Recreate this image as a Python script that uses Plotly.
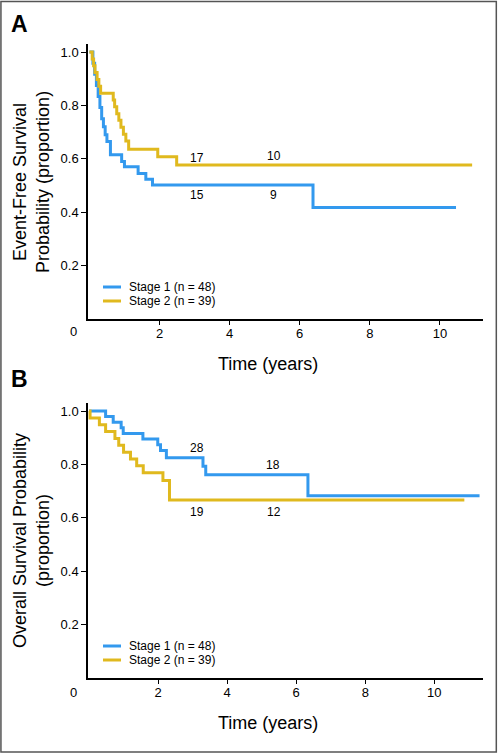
import plotly.graph_objects as go
from plotly.subplots import make_subplots

# ---- Data ----
efs_stage1_t = [0, 0.10, 0.15, 0.20, 0.25, 0.30, 0.35, 0.40, 0.45, 0.50, 0.60, 0.92, 1.00, 1.39, 1.61, 1.80, 6.38, 10.46]
efs_stage1_p = [1.0, 0.958, 0.917, 0.875, 0.833, 0.792, 0.750, 0.720, 0.690, 0.665, 0.615, 0.590, 0.570, 0.545, 0.523, 0.502, 0.418, 0.418]

efs_stage2_t = [0, 0.08, 0.12, 0.16, 0.22, 0.27, 0.32, 0.68, 0.72, 0.78, 0.84, 0.90, 0.97, 1.04, 1.12, 1.95, 2.49, 10.92]
efs_stage2_p = [1.0, 0.974, 0.949, 0.923, 0.897, 0.872, 0.846, 0.820, 0.795, 0.769, 0.744, 0.718, 0.692, 0.667, 0.636, 0.608, 0.577, 0.577]

os_stage1_t = [0, 0.48, 0.70, 0.93, 0.99, 1.56, 1.99, 2.07, 2.24, 3.30, 3.38, 6.34, 11.31]
os_stage1_p = [1.0, 0.979, 0.958, 0.937, 0.916, 0.895, 0.874, 0.852, 0.825, 0.793, 0.761, 0.683, 0.683]

os_stage2_t = [0, 0.03, 0.30, 0.48, 0.75, 0.86, 1.00, 1.20, 1.38, 1.57, 2.14, 2.33, 10.87]
os_stage2_p = [1.0, 0.974, 0.949, 0.923, 0.897, 0.872, 0.846, 0.820, 0.795, 0.769, 0.740, 0.667, 0.667]

series_names = ["Stage 1 (n = 48)", "Stage 2 (n = 39)"]

# numbers at risk annotations
efs_risk_t = [3.08, 5.26, 3.08, 5.26]
efs_risk_p = [0.604, 0.610, 0.463, 0.463]
efs_risk_txt = ["17", "10", "15", "9"]

os_risk_t = [3.14, 5.34, 3.14, 5.36]
os_risk_p = [0.862, 0.798, 0.620, 0.623]
os_risk_txt = ["28", "18", "19", "12"]

x_ticks = [2, 4, 6, 8, 10]
y_ticks = [0.2, 0.4, 0.6, 0.8, 1.0]
y_tick_text = ["0.2", "0.4", "0.6", "0.8", "1.0"]

BLUE = "#3399EE"
GOLD = "#E0B91E"
COLORS = [BLUE, GOLD]
FONT = "Liberation Sans, Arial, sans-serif"

W, H = 500, 754
L, R, T, B = 88, 17.3, 44, 76
PW = W - L - R
PH = H - T - B


def px_x(px):
    return (px - L) / PW


def px_y(py):
    return (H - B - py) / PH


fig = make_subplots(rows=2, cols=1)

panels = [
    (1, [(efs_stage1_t, efs_stage1_p), (efs_stage2_t, efs_stage2_p)]),
    (2, [(os_stage1_t, os_stage1_p), (os_stage2_t, os_stage2_p)]),
]
for row, series in panels:
    for i, (t, p) in enumerate(series):
        fig.add_trace(go.Scatter(x=t, y=p, mode="lines",
                                 line=dict(color=COLORS[i], width=3, shape="hv"),
                                 name=series_names[i], showlegend=False), row=row, col=1)

dom_a = [px_y(319), 1.0]
dom_b = [0.0, px_y(403)]

axis_common = dict(showline=True, linecolor="black", linewidth=1.5, showgrid=False, zeroline=False,
                   ticks="outside", tickcolor="black", tickwidth=1,
                   tickfont=dict(family=FONT, size=13, color="black"))

fig.update_layout(
    xaxis=dict(domain=[0, 1], range=[-0.04, 11.23], tickvals=x_ticks, ticklen=4, anchor="y",
               ticklabelstandoff=-2, **axis_common),
    yaxis=dict(domain=dom_a, range=[0, 1.03], tickvals=y_ticks, ticktext=y_tick_text, ticklen=5, anchor="x", **axis_common),
    xaxis2=dict(domain=[0, 1], range=[-0.03, 11.41], tickvals=x_ticks, ticklen=4, anchor="y2",
                ticklabelstandoff=-2, **axis_common),
    yaxis2=dict(domain=dom_b, range=[0, 1.03], tickvals=y_ticks, ticktext=y_tick_text, ticklen=5, anchor="x2", **axis_common),
)

annos = []
shapes = []
for t, p, s in zip(efs_risk_t, efs_risk_p, efs_risk_txt):
    annos.append(dict(x=t, y=p, xref="x", yref="y", text=s, showarrow=False,
                      font=dict(family=FONT, size=12, color="black")))
for t, p, s in zip(os_risk_t, os_risk_p, os_risk_txt):
    annos.append(dict(x=t, y=p, xref="x2", yref="y2", text=s, showarrow=False,
                      font=dict(family=FONT, size=12, color="black")))


def paper_text(px, py, text, size, angle=0):
    return dict(x=px_x(px), y=px_y(py), xref="paper", yref="paper", text=text,
                xanchor="center", yanchor="middle", textangle=angle,
                showarrow=False, font=dict(family=FONT, size=size, color="black"))


title_size = 18
annos.append(paper_text(268, 364, "Time (years)", title_size))
annos.append(paper_text(268, 723, "Time (years)", title_size))
annos.append(paper_text(31, 182, "Event-Free Survival<br>Probability (proportion)", title_size, -90))
annos.append(paper_text(31, 540, "Overall Survival Probability<br>(proportion)", title_size, -90))
annos.append(paper_text(74, 332, "0", 13))
annos.append(paper_text(74, 692, "0", 13))
annos.append(paper_text(20, 24, "<b>A</b>", 23))
annos.append(paper_text(20, 379, "<b>B</b>", 23))

# legends (compact, drawn as keys + labels)
for base_y in (287, 646):
    for i, name in enumerate(series_names):
        yy = base_y + 14 * i
        shapes.append(dict(type="line", xref="paper", yref="paper",
                           x0=px_x(103), x1=px_x(121), y0=px_y(yy), y1=px_y(yy),
                           line=dict(color=COLORS[i], width=3)))
        annos.append(dict(x=px_x(127), y=px_y(yy), xref="paper", yref="paper", text=name,
                          xanchor="left", yanchor="middle", showarrow=False,
                          font=dict(family=FONT, size=12, color="black")))

# outer frame
shapes.append(dict(type="rect", xref="paper", yref="paper",
                   x0=px_x(1), x1=px_x(496), y0=px_y(752), y1=px_y(1.5),
                   line=dict(color="#555555", width=1.5), fillcolor="rgba(0,0,0,0)", layer="below"))

fig.update_layout(
    annotations=annos,
    shapes=shapes,
    width=W, height=H,
    margin=dict(l=L, r=R, t=T, b=B, pad=0),
    paper_bgcolor="white", plot_bgcolor="white",
    showlegend=False,
)

fig.write_html("out.html",
               config={"displayModeBar": False},
               post_script="document.body.style.margin='0';document.body.style.padding='0';")
